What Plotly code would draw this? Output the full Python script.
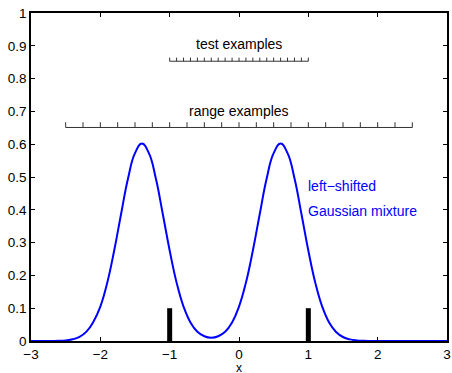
import plotly.graph_objects as go

# ---- data ----
x_vals = [round(-3.0 + 0.1 * i, 1) for i in range(61)]
density = [0.0, 0.0, 0.0001, 0.0002, 0.0006, 0.0019, 0.0051, 0.0127, 0.0286, 0.0584,
           0.105, 0.178, 0.276, 0.388, 0.496, 0.573, 0.602, 0.573, 0.496, 0.388,
           0.276, 0.178, 0.105, 0.0566, 0.0282, 0.0146, 0.0102, 0.0146, 0.0282, 0.0566,
           0.105, 0.178, 0.276, 0.388, 0.496, 0.573, 0.602, 0.573, 0.496, 0.388,
           0.276, 0.178, 0.105, 0.0564, 0.0276, 0.0122, 0.0049, 0.0018, 0.0006, 0.0002,
           0.0001, 0.0, 0.0, 0.0, 0.0, 0.0, 0.0, 0.0, 0.0, 0.0, 0.0]
train_x = [-1.0, 1.0]
train_h = [0.1, 0.1]
test_ticks = [-1.0, -0.9, -0.8, -0.7, -0.6, -0.5, -0.4, -0.3, -0.2, -0.1, 0.0,
              0.1, 0.2, 0.3, 0.4, 0.5, 0.6, 0.7, 0.8, 0.9, 1.0]
range_ticks = [-2.5, -2.25, -2.0, -1.75, -1.5, -1.25, -1.0, -0.75, -0.5, -0.25, 0.0,
               0.25, 0.5, 0.75, 1.0, 1.25, 1.5, 1.75, 2.0, 2.25, 2.5]
x_tick_vals = [-3, -2, -1, 0, 1, 2, 3]
x_tick_text = ["\u22123", "\u22122", "\u22121", "0", "1", "2", "3"]
y_tick_vals = [0, 0.1, 0.2, 0.3, 0.4, 0.5, 0.6, 0.7, 0.8, 0.9, 1]
y_tick_text = ["0", "0.1", "0.2", "0.3", "0.4", "0.5", "0.6", "0.7", "0.8", "0.9", "1"]

FONT = "Liberation Sans, Arial, sans-serif"

fig = go.Figure()

# density curve
fig.add_trace(go.Scatter(x=x_vals, y=density, mode="lines",
                         line=dict(color="#0000ff", width=2, shape="spline", smoothing=1.3),
                         hoverinfo="skip", showlegend=False))

# training example bars
bx, by = [], []
for xv, h in zip(train_x, train_h):
    bx += [xv, xv, None]
    by += [0, h, None]
fig.add_trace(go.Scatter(x=bx, y=by, mode="lines",
                         line=dict(color="black", width=5),
                         hoverinfo="skip", showlegend=False))


def ruler(ticks, y0, th):
    xs = [ticks[0], ticks[-1], None]
    ys = [y0, y0, None]
    for t in ticks:
        xs += [t, t, None]
        ys += [y0, y0 + th, None]
    return xs, ys


rx, ry = ruler(test_ticks, 0.853, 0.011)
fig.add_trace(go.Scatter(x=rx, y=ry, mode="lines", line=dict(color="#333333", width=1),
                         hoverinfo="skip", showlegend=False))
rx, ry = ruler(range_ticks, 0.651, 0.016)
fig.add_trace(go.Scatter(x=rx, y=ry, mode="lines", line=dict(color="#333333", width=1),
                         hoverinfo="skip", showlegend=False))

ann_font = dict(family=FONT, size=14, color="#000000")
fig.add_annotation(x=0, y=0.904, text="test examples", showarrow=False, font=ann_font,
                   xanchor="center", yanchor="middle")
fig.add_annotation(x=0, y=0.70, text="range examples", showarrow=False, font=ann_font,
                   xanchor="center", yanchor="middle")
blue_font = dict(family=FONT, size=14, color="#0000ff")
fig.add_annotation(x=1.0, y=0.472, text="left\u2212shifted", showarrow=False, font=blue_font,
                   xanchor="left", yanchor="middle", xshift=-2)
fig.add_annotation(x=1.0, y=0.396, text="Gaussian mixture", showarrow=False, font=blue_font,
                   xanchor="left", yanchor="middle", xshift=-2)
# x-axis title
fig.add_annotation(x=0, y=0, yref="paper", text="x", showarrow=False,
                   font=dict(family=FONT, size=12, color="#000000"),
                   xanchor="center", yanchor="top", yshift=-19, borderpad=0)

axis_common = dict(showline=True, linecolor="black", linewidth=1.5, mirror="ticks",
                   ticks="inside", ticklen=4, tickwidth=1, tickcolor="black",
                   showgrid=False, zeroline=False, automargin=False,
                   tickfont=dict(family=FONT, size=13.5, color="#000000"))

fig.update_xaxes(range=[-3, 3], tickvals=x_tick_vals, ticktext=x_tick_text, **axis_common)
fig.update_yaxes(range=[0, 1], tickvals=y_tick_vals, ticktext=y_tick_text, **axis_common)

fig.update_layout(width=452, height=373, margin=dict(l=31, r=5, t=13, b=32),
                  paper_bgcolor="white", plot_bgcolor="white", showlegend=False)

fig.write_html("out.html", config={"displayModeBar": False},
               post_script="document.body.style.margin='0';document.body.style.overflow='hidden';")
